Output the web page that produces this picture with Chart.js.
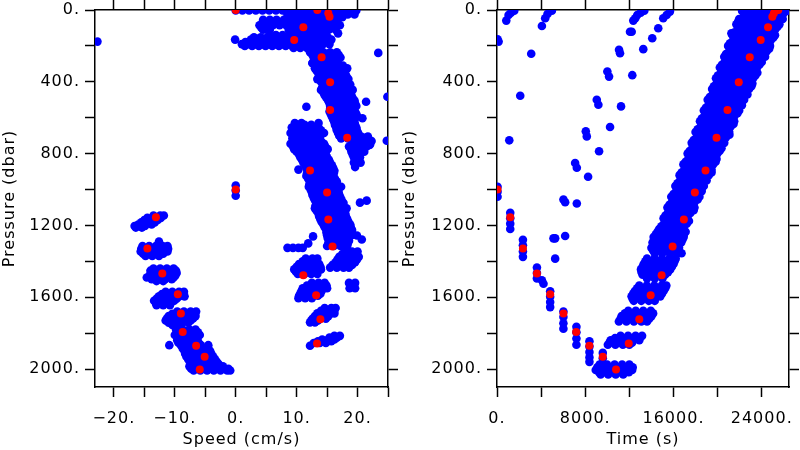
<!DOCTYPE html>
<html>
<head>
<meta charset="utf-8">
<script src="https://cdn.jsdelivr.net/npm/chart.js@4.4.0/dist/chart.umd.min.js"></script>
<style>
  html, body { margin: 0; padding: 0; background: #fff; }
  #wrap { position: relative; width: 800px; height: 450px; }
  canvas { position: absolute; top: 0; width: 400px; height: 450px; }
  #speed-chart { left: 0; }
  #time-chart { left: 400px; }
</style>
</head>
<body>
<div id="wrap">
  <canvas id="speed-chart" width="400" height="450"></canvas>
  <canvas id="time-chart" width="400" height="450"></canvas>
</div>
<script>
// tick positions (labels only on every other one)
const speedTicks = [-20, -15, -10, -5, 0, 5, 10, 15, 20, 25];
const timeTicks  = [0, 4000, 8000, 12000, 16000, 20000, 24000];
const presTicks  = [0, 200, 400, 600, 800, 1000, 1200, 1400, 1600, 1800, 2000];

// bin means (red), shared by both panels
const meanPres  = [0, 0, 18, 38, 96, 167, 263, 402, 557, 711, 894, 1017, 1167, 1318, 1478, 1589, 1722, 1858, 2002, 1932, 1870, 1793, 1691, 1583, 1468, 1328, 1154, 1000];
const meanSpeed = [0, 13.4, 15.2, 15.4, 11.1, 9.6, 14.1, 15.5, 15.5, 18.3, 12.2, 15.0, 15.2, 15.9, 11.1, 13.2, 13.9, 13.35, -5.9, -5.1, -6.5, -8.7, -9.0, -9.5, -12.05, -14.5, -13.1, 0];
const meanTime  = [25500, 25330, 25100, 24960, 24570, 23906, 22911, 21916, 20894, 19899, 18904, 17936, 16941, 15920, 14924, 13929, 12898, 11940, 10791, 9588, 8376, 7173, 6024, 4821, 3618, 2352, 1203, 50];

// speed samples, rows of [pressure, speed, speed, ...]
const upcastSpeedRows = [
  [3, 0,1.1,2.2,3.3,4.4,5.5,6.6,7.7,8.8,9.9,11,12.1,13.2,14.3,15.4,16.5,17.6,18.7,19.8],
  [25, 8.5,9.6,10.7,11.8,12.9,14,15.1,16.2,17.3,18.4,19.5],
  [40, 8.9,10,11.1,12.2,13.3,14.4,15.5,16.6,17.5],
  [55, 4.5,5.6,6.7,7.9,9.05,10.15,11.25,12.35,13.45,14.55,15.65,16.75],
  [70, 4.4,5.5,6.6,7.7,8.8,9.9,11,12.1,13.2,14.3,15.4,16.5],
  [85, 3.9,5,6.1,7.2,8.3,9.4,10.5,11.6,12.7,13.8,14.9,16,17.1],
  [98, 4.2,5.3,9.3,10.4,11.5,12.6,13.7,14.8,15.9],
  [110, 4.5,5.6,8.7,9.8,10.9,12,13.1,14.2,15.3,16.4],
  [125, 9.3,10.4,11.5,12.6,13.7,14.8],
  [140, 5.5,6.6,7.7,8.8,9.9,11,12.1,13.2,14.3],
  [152, 3,4.1,5.2,6.3,7.4,8.5,9.6,10.7,11.8,12.9,14,15.1],
  [165, -0.1,2.5,3.6,4.7,5.8,6.9,8,9.1,10.2,11.3,12.4,13.5,14.6,15.7],
  [178, 1.6,2.8,3.9,5,6.1,7.2,8.3,9.4,10.5,11.6,12.7,13.8,14.9],
  [190, 1,2.2,3.3,4.4,5.5,6.6,7.7,8.8,9.9,11,12.1,13.2,14.3,15.4],
  [200, 1.5,2.7,3.8,4.9,6,7.1,8.2,9.3,10.4,11.5,12.6,13.7],
  [212, 9.5,10.6,11.7,12.8,13.9],
  [235, 12.2,13.3,14.4,15.5,16.6],
  [250, 12.6,13.7,14.8,15.9,16.9],
  [265, 12.8,13.9,15,16.1,17.2],
  [280, 12.9,14,15.1,16.2],
  [295, 12.6,13.5,14.6,15.7,16.8],
  [310, 13.2,14.3,15.4,16.5,17.6],
  [325, 13,14.1,15.2,16.3,17.4,18.3],
  [340, 13.3,14.4,15.5,16.6,17.7],
  [355, 13.6,14.7,15.8,16.9,18],
  [370, 13.9,15,16.1,17.2,18.2],
  [385, 13.4,14.5,15.6,16.7,17.8,18.5],
  [400, 14,15.1,16.2,17.3,18.4],
  [415, 14.4,15.5,16.6,17.7,18.8],
  [430, 14.2,15.3,16.4,17.5,18.6],
  [445, 14,15.1,16.2,17.3,18.4,19.2],
  [460, 14.4,15.5,16.6,17.7,18.8],
  [475, 14.6,15.7,16.8,17.9,19],
  [490, 14.9,16,17.1,18.2,19.2],
  [505, 15.2,16.3,17.4,18.5,19.5],
  [520, 15.4,16.5,17.6,18.7,19.6],
  [535, 15.5,16.6,17.7,18.8,19.8],
  [550, 15.5,16.6,17.7,18.8],
  [565, 15.4,16.5,17.6,18.7,19.6],
  [580, 15.6,16.7,17.8,18.9,19.8],
  [595, 15.8,16.9,18,19.1,20],
  [610, 16,17.1,18.2,19.3],
  [625, 16.2,17.3,18.4,19.5],
  [640, 16.3,17.4,18.5,19.6],
  [655, 16.5,17.6,18.7,19.8],
  [670, 16.6,17.7,18.8,19.9],
  [685, 16.8,17.9,19,20.1],
  [700, 17,18.1,19.2],
  [715, 17.3,18.4,19.4],
  [705, 20.6,21.7],
  [730, 19.5,20.6,21.7,22.3],
  [745, 19.1,20.2,21.3,22.1],
  [760, 18.6,19.7,20.8,21.5],
  [775, 18.9,20,21],
  [790, 19,20.1,21.1],
  [805, 19.2,20.3],
  [820, 19.4,20.4],
  [850, 19.4,20.5],
  [875, 19.6],
  [630, 9.7,10.8,13.6],
  [640, 10.2,11.3,12.4],
  [655, 9.2,10.3,11.4,12.5,13.6],
  [670, 9.6,10.7,11.8,12.9,14],
  [685, 9,10.1,11.2,12.3,13.4,14.5],
  [700, 9.5,10.6,11.7,12.8,13.9],
  [715, 9.3,10.4,11.5,12.6,13.7],
  [730, 9.6,10.7,11.8,12.9,14],
  [745, 9,10.1,11.2,12.3,13.4,14.5],
  [760, 9.4,10.5,11.6,12.7,13.8,14.7],
  [775, 9.6,10.7,11.8,12.9,14,15.1],
  [790, 10,11.1,12.2,13.3,14.4],
  [805, 10.4,11.5,12.6,13.7,14.8],
  [820, 10.6,11.7,12.8,13.9,15],
  [835, 10.9,12,13.1,14.2,15.3],
  [850, 11.1,12.2,13.3,14.4,15.5],
  [865, 11.4,12.5,13.6,14.7,15.8],
  [880, 11.6,12.7,13.8,14.9,16],
  [895, 11.8,12.9,14,15.1,16.2],
  [910, 11.7,12.8,13.9,15,16.1],
  [925, 11.6,12.7,13.8,14.9,16],
  [940, 11.9,13,14.1,15.2,16.3],
  [955, 12.2,13.3,14.4,15.5,16.6],
  [970, 12.1,13.2,14.3,15.4,16.5],
  [985, 12,13.1,14.2,15.3,16.4,17.3],
  [1000, 12.3,13.4,14.5,15.6,16.7],
  [1015, 12.5,13.6,14.7,15.8,16.9],
  [1030, 12.6,13.7,14.8,15.9,17],
  [1045, 12.8,13.9,15,16.1,17.2],
  [1060, 13,14.1,15.2,16.3,17.4],
  [1075, 13.3,14.4,15.5,16.6,17.7],
  [1090, 13.1,14.2,15.3,16.4,17.5],
  [1105, 13,14.1,15.2,16.3,17.4,18.2],
  [1120, 13.3,14.4,15.5,16.6,17.7],
  [1135, 13.6,14.7,15.8,16.9,18],
  [1150, 13.7,14.8,15.9,17,18.1],
  [1165, 13.9,15,16.1,17.2,18.3],
  [1180, 14.1,15.2,16.3,17.4,18.5],
  [1195, 14.4,15.5,16.6,17.7,18.8],
  [1210, 14.6,15.7,16.8,17.9,18.9],
  [1225, 14.9,16,17.1,18.2,19.1],
  [1240, 14.9,16,17.1,18.2],
  [1255, 15,16.1,17.2,18.3,19],
  [1270, 15.1,16.2,17.3,18.4],
  [1285, 15.3,16.4,17.5,18.6],
  [1300, 15.2,16.3,17.4,18.4],
  [1315, 15,16.1,17.2,18.3],
  [1325, 8.5,9.4,10.3,11],
  [1345, 18,19.1,20],
  [1360, 17.5,18.6,19.7],
  [1375, 17,18.1,19.2,20.2],
  [1390, 16.7,17.8,18.9,19.9],
  [1405, 16.4,17.5,18.6,19.6],
  [1420, 15.9,17,18.1,19.1],
  [1435, 15.5,16.6,17.7,18.6],
  [1385, 11.5,12.6,13.4],
  [1400, 11,12.1,13.1],
  [1415, 10.4,11.5,12.6,13.7],
  [1430, 10,11.1,12.2,13.3,13.9],
  [1445, 9.6,10.7,11.8,12.9,14],
  [1458, 9.9,11,12.1,13.2],
  [1470, 10.2,11.3,12.4,13.4],
  [1520, 12.5,13.6,14.6,18.6,19.6],
  [1535, 11.7,12.8,13.9,14.9],
  [1550, 11,12.1,13.2,14.3,15,18.7,19.6],
  [1565, 10.8,11.9,13,14.1],
  [1580, 10.6,11.7,12.8,13.9],
  [1592, 10.4,11.5,12.6,13.5],
  [1605, 10.3,11.4,12.5],
  [1660, 14.6,15.7,16.4],
  [1675, 14,15.1,16.2],
  [1690, 13.4,14.5,15.6,16.2],
  [1705, 13,14.1,15.2],
  [1720, 12.6,13.7,14.8],
  [1730, 12.4,13.5],
  [1740, 12.2,13],
  [1815, 16.2,17.1],
  [1825, 15.4,16.6],
  [1835, 14.2,15.2,16.2],
  [1845, 13.5,14.6,15.7],
  [1855, 12.8,13.8,14.8],
  [1870, 12.2],
];

const downcastSpeedRows = [
  [1145, -13.5,-12.4,-11.8],
  [1158, -14.5,-13.4,-12.3],
  [1170, -15,-13.9,-12.8],
  [1183, -15.5,-14.4,-13.3],
  [1195, -16,-14.9,-13.8],
  [1203, -16.6,-15.9,-14.9],
  [1212, -16.4,-15.4],
  [1290, -12.6],
  [1315, -15.3,-14.2,-13.1,-12,-11.2],
  [1330, -15.5,-14.4,-13.3,-12.2,-11.1],
  [1345, -15.6,-14.5,-13.4,-12.3,-11.2],
  [1358, -15.2,-14.1,-13,-11.9],
  [1370, -14.8,-13.7,-12.6],
  [1440, -13.5,-12.4,-11.3,-10.2],
  [1452, -14,-12.9,-11.8,-10.7,-9.8],
  [1465, -13.8,-12.7,-11.6,-10.5,-9.7],
  [1478, -14.1,-13,-11.9,-10.8,-9.9],
  [1490, -14.6,-13.5,-12.4,-11.3,-10.2],
  [1500, -13.8,-12.7,-11.6,-10.5],
  [1510, -13,-11.9],
  [1570, -11.5,-10.4,-9.3,-8.5],
  [1582, -12.1,-11,-9.9,-8.9],
  [1595, -12.6,-11.5,-10.4,-9.3,-8.4],
  [1608, -13,-11.9,-10.8,-9.7],
  [1620, -13.4,-12.3,-11.2,-10.1],
  [1632, -13.1,-12,-10.9],
  [1645, -13,-11.9,-10.8],
  [1680, -9.6,-8.5,-7.4,-6.5],
  [1692, -10.4,-9.3,-8.2,-7.1],
  [1705, -11,-9.9,-8.8,-7.7,-6.6],
  [1718, -11.3,-10.2,-9.1,-8,-7],
  [1730, -11.5,-10.4,-9.3,-8.2,-7.4],
  [1742, -11,-9.9,-8.8,-7.8],
  [1755, -10.4,-9.3],
  [1780, -9.8,-8.7,-7.6,-6.6],
  [1795, -9.4,-8.3,-7.2,-6.2],
  [1810, -10,-8.9,-7.8,-6.7,-5.9],
  [1825, -9.6,-8.5,-7.4,-6.3],
  [1840, -9.6,-8.5,-7.4,-6.3],
  [1853, -9.4,-8.3,-7.2,-6.1],
  [1867, -10.9,-9,-7.9,-6.8,-5.7,-4.5],
  [1885, -8.7,-7.6,-6.5,-5.4,-4.5],
  [1900, -8.4,-7.3,-6.2,-5.1,-4.2],
  [1915, -8.3,-7.2,-6.1,-5,-4],
  [1930, -8.1,-7,-5.9,-4.8,-3.7],
  [1945, -7.8,-6.7,-5.6,-4.5,-3.4],
  [1960, -7.5,-6.4,-5.3,-4.2,-3.1],
  [1972, -7.2,-6.1,-5,-3.9,-2.8],
  [1985, -7.6,-6.5,-5.4,-4.3,-3.2,-2.1],
  [1998, -7.3,-6.2,-5.1,-4,-2.9,-1.8,-1.2],
  [2008, -6.9,-5.8,-4.7,-3.6,-2.5,-1.4,-0.9],
];

// odd single samples: [speed, pressure]
const speedSparse = [
  [-22.7,176],[16.8,130],[23.4,239],[24.9,483],[11.6,539],[21.4,511],[20.8,603],[24.8,728],
  [21.5,709],[22,752],[10.3,889],[20.4,1073],[21.5,1062],[12.6,296],[12.7,1261],[11.9,1300],
  [19.9,1256],[20.7,1278],[0,978],[0,1005],[0,1035],
];

// time samples, rows of [pressure, time, time, ...]
const timeRows = [
  [5, 22220,22900,23580,24260,24940,25620,26300],
  [20, 22560,23240,23920,24600,25280,25960],
  [35, 22380,23060,23740,24420,25100,25780],
  [50, 21950,22630,23310,23990,24670,25350,25900],
  [65, 21850,22530,23210,23890,24570,25250],
  [80, 21700,22350,23030,23710,24390,25070,25600],
  [95, 22010,22690,23370,24050,24730,25410],
  [110, 21800,22480,23160,23840,24520,25200],
  [125, 21490,22170,22850,23530,24210,24890],
  [140, 21350,21950,22630,23310,23990,24670,25200],
  [155, 21640,22320,23000,23680,24360,25040],
  [170, 21400,22080,22760,23440,24120,24800],
  [185, 21120,21800,22480,23160,23840,24520],
  [200, 20950,21600,22280,22960,23640,24320,24750],
  [215, 21280,21960,22640,23320,24000,24680],
  [230, 21050,21730,22410,23090,23770,24450],
  [245, 20760,21440,22120,22800,23480,24160],
  [260, 20600,21250,21930,22610,23290,23970,24300],
  [275, 20910,21590,22270,22950,23630],
  [290, 20650,21330,22010,22690,23370,24000],
  [305, 20390,21070,21750,22430,23110,23790],
  [320, 20200,20850,21530,22210,22890,23570],
  [335, 20550,21230,21910,22590,23270],
  [350, 20300,20980,21660,22340,23020,23600],
  [365, 20020,20700,21380,22060,22740,23420],
  [380, 19850,20500,21180,21860,22540,23220],
  [395, 20180,20860,21540,22220,22900],
  [410, 19900,20580,21260,21940,22620,23150],
  [425, 19660,20340,21020,21700,22380,23060],
  [440, 19500,20150,20830,21510,22190,22850],
  [455, 19820,20500,21180,21860,22540],
  [470, 19550,20230,20910,21590,22270,22700],
  [485, 19290,19970,20650,21330,22010],
  [500, 19100,19750,20430,21110,21790,22400],
  [515, 19450,20130,20810,21490,22170],
  [530, 19180,19860,20540,21220,21900,22200],
  [545, 18930,19610,20290,20970,21650],
  [560, 18750,19400,20080,20760,21440,21950],
  [575, 19080,19760,20440,21120,21800],
  [590, 18800,19480,20160,20840,21520],
  [605, 18560,19240,19920,20600,21280],
  [620, 18400,19050,19730,20410,21090,21500],
  [635, 18720,19400,20080,20760,21440],
  [650, 18450,19130,19810,20490,21170],
  [665, 18190,18870,19550,20230,20910],
  [680, 18000,18650,19330,20010,20690,21050],
  [695, 18350,19030,19710,20390,21070],
  [710, 18080,18760,19440,20120,20750],
  [725, 17830,18510,19190,19870,20550],
  [740, 17650,18300,18980,19660,20340,20600],
  [755, 17980,18660,19340,20020],
  [770, 17700,18380,19060,19740,20350],
  [785, 17460,18140,18820,19500,20180],
  [800, 17280,17930,18610,19290,19970],
  [815, 17620,18300,18980,19660],
  [830, 17340,18020,18700,19380,19900],
  [845, 17100,17780,18460,19140,19820],
  [860, 16900,17550,18230,18910,19590],
  [875, 17250,17930,18610,19290],
  [890, 16980,17660,18340,19020,19450],
  [905, 16730,17410,18090,18770,19450],
  [920, 16550,17200,17880,18560,19200],
  [935, 16890,17570,18250,18930],
  [950, 16600,17280,17960,18640,19000],
  [965, 16360,17040,17720,18400],
  [980, 16170,16820,17500,18180,18750],
  [995, 16520,17200,17880,18560],
  [1010, 16240,16920,17600,18300,18550],
  [1025, 16000,16680,17360,18040],
  [1040, 15800,16450,17130,17810,18350],
  [1055, 16150,16830,17510,18190],
  [1070, 15870,16550,17230,17910],
  [1085, 15630,16310,16990,17670],
  [1100, 15450,16100,16780,17460,17900],
  [1115, 15790,16470,17150,17830],
  [1130, 15500,16180,16860,17540],
  [1145, 15270,15950,16630,17310],
  [1160, 15100,15750,16430,17110],
  [1175, 15420,16100,16780,17400],
  [1190, 15150,15830,16510,17200],
  [1205, 14900,15580,16260,16940],
  [1220, 14700,15380,16060,16740],
  [1235, 14550,15230,15910,16590,17100],
  [1250, 14400,15080,15760,16440,16950],
  [1265, 14200,14880,15560,16240,16920],
  [1280, 14250,14930,15610,16290,16800],
  [1295, 14100,14780,15460,16140,16700],
  [1310, 14350,15030,15710,16390],
  [1325, 14000,14680,15360,16040,16500],
  [1340, 14150,14830,15510,16200],
  [1355, 14300,14980,15660,16300,16730],
  [1385, 13600,14280,14960,15640,16200],
  [1400, 13450,14130,14810,15490,16100],
  [1415, 13300,13980,14660,15340,16000],
  [1430, 13200,13880,14560,15240,15850],
  [1445, 13050,13730,14410,15090,15700],
  [1460, 13100,13780,14460,15140,15500],
  [1475, 13200,13880,14560,15240],
  [1495, 13600,14300,15000],
  [1535, 12900,13580,14260,14940,15350],
  [1550, 12700,13380,14060,14740,15250],
  [1565, 12500,13180,13860,14540,15100],
  [1580, 12350,13030,13710,14390,14950],
  [1595, 12200,12880,13560,14240,14800],
  [1608, 12300,12980,13660],
  [1620, 12400,13080,13760,14300],
  [1675, 11900,12580,13260,13940],
  [1690, 11600,12280,12960,13640,14150],
  [1705, 11300,11980,12660,13340,14000],
  [1720, 11200,11880,12560,13240,13800],
  [1735, 11050,11730,12410,13090,13600],
  [1815, 11200,11880,12560,13150],
  [1828, 10700,11380,12060,12740],
  [1840, 10300,10980,11660,12340,12900],
  [1853, 10200,10880,11560,12240],
  [1865, 10050,10730,11410,12000],
  [1975, 9300,9980,10660,11340,12000],
  [1990, 9100,9780,10460,11140,11820,12300],
  [2005, 8950,9630,10310,10990,11670,12250],
  [2018, 9250,9930,10610,11290,11950],
  [2030, 9400,10080,10760,11440],
];

// single samples: [time, pressure]
const timeSparse = [
  [50,985],[50,1012],[50,1040],
  [1200,1130],[1200,1160],[1200,1190],[1200,1220],
  [2350,1280],[2350,1310],[2350,1345],[2350,1375],
  [3620,1435],[3620,1465],[3620,1495],[4070,1505],[4215,1525],
  [4820,1567],[4820,1597],[4820,1627],[4820,1655],
  [6020,1680],[6020,1710],[6020,1745],[6020,1775],
  [7200,1765],[7200,1795],[7200,1830],[7200,1865],
  [8380,1845],[8380,1875],[8380,1905],[8380,1935],[8380,1960],
  [9590,1910],[9590,1940],[9590,1970],[9590,2000],
  [841,59],[1049,28],[1266,15],[1565,4],[4070,89],[4369,46],[4577,22],[4975,4],
  [54,163],[145,176],[3102,244],[2107,478],[1113,726],
  [12355,59],[12536,46],[12717,28],[13025,15],[13351,4],[15069,46],[15377,28],[15675,9],
  [12057,121],[12211,121],[14617,102],[14074,157],[13260,218],[11062,222],[11153,241],
  [12265,363],[10004,343],[10158,371],[11243,537],[9045,500],[9190,528],[10248,652],
  [8050,676],[8141,704],[9253,787],[7082,852],[7236,879],[8258,929],[6024,1056],
  [6178,1071],[7236,1078],[5120,1272],[5273,1272],[6178,1259],[5273,1385],[21250,130],
];

const FONT = { family: 'DejaVu Sans', size: 16 };
const BLUE = '#0000ff', RED = '#ff0000';

const fromRows = rows => rows.flatMap(([p, ...xs]) => xs.map(x => ({ x, y: p })));
const fromPairs = pairs => pairs.map(([x, y]) => ({ x, y }));

function dots(data, color, r) {
  return { data, backgroundColor: color, borderWidth: 0, pointRadius: r, pointHoverRadius: r, clip: 0 };
}

function dotLabel(v) {
  return (v < 0 ? '\u2212' + (-v) : String(v)) + '.';
}

// one side of the box frame: ticks pointing outwards, fixed thickness
function edgeAxis(position, min, max, tickValues, size, extra) {
  return Object.assign({
    type: 'linear', position, min, max,
    ticks: { display: false, autoSkip: false },
    grid: { drawOnChartArea: false, tickLength: 10, tickWidth: 1.5, tickColor: '#000' },
    border: { display: true, color: '#000', width: 1.5 },
    afterBuildTicks: s => { s.ticks = tickValues.map(value => ({ value })); },
    afterFit: s => {
      if (s.isHorizontal()) s.height = size; else s.width = size;
      s.paddingTop = s.paddingBottom = s.paddingLeft = s.paddingRight = 0;
    },
  }, extra);
}

function labelTicks(every, pad) {
  return {
    autoSkip: false, maxRotation: 0,
    color: '#000', font: FONT, padding: pad,
    callback: v => (v % every === 0 ? dotLabel(v) : ''),
  };
}

const spacing = { id: 'spacing', beforeDraw(chart) { chart.ctx.letterSpacing = '1px'; } };

function makePanel(id, xMin, xMax, xTicks, xEvery, xTitle, leftW, rightW, datasets) {
  return new Chart(document.getElementById(id), {
    type: 'scatter',
    data: { datasets },
    plugins: [spacing],
    options: {
      responsive: false,
      animation: false,
      events: [],
      layout: { padding: 0, autoPadding: false },
      plugins: { legend: { display: false }, tooltip: { enabled: false } },
      scales: {
        x: edgeAxis('bottom', xMin, xMax, xTicks, 63, {
          ticks: labelTicks(xEvery, 12),
          title: { display: true, text: xTitle, color: '#000', font: FONT, padding: { top: 0, bottom: 1 } },
        }),
        xTop: edgeAxis('top', xMin, xMax, xTicks, 10),
        y: edgeAxis('left', 0, 2100, presTicks, leftW, {
          reverse: true,
          ticks: labelTicks(400, 5),
          title: { display: true, text: 'Pressure (dbar)', color: '#000', font: FONT, padding: { top: 0, bottom: 0 } },
        }),
        yRight: edgeAxis('right', 0, 2100, presTicks, rightW, { reverse: true }),
      },
    },
  });
}

const speedMeans = meanSpeed.map((s, i) => ({ x: s, y: meanPres[i] }));
const timeMeans = meanTime.map((t, i) => ({ x: t, y: meanPres[i] }));

makePanel('speed-chart', -23.1, 25, speedTicks, 10, 'Speed (cm/s)', 95, 12, [
  dots(speedMeans, RED, 4),
  dots(fromRows(upcastSpeedRows).concat(fromRows(downcastSpeedRows), fromPairs(speedSparse)), BLUE, 4.3),
]);

makePanel('time-chart', 0, 26470, timeTicks, 8000, 'Time (s)', 97, 11, [
  dots(timeMeans, RED, 4),
  dots(fromRows(timeRows).concat(fromPairs(timeSparse)), BLUE, 4.3),
]);
</script>
</body>
</html>
